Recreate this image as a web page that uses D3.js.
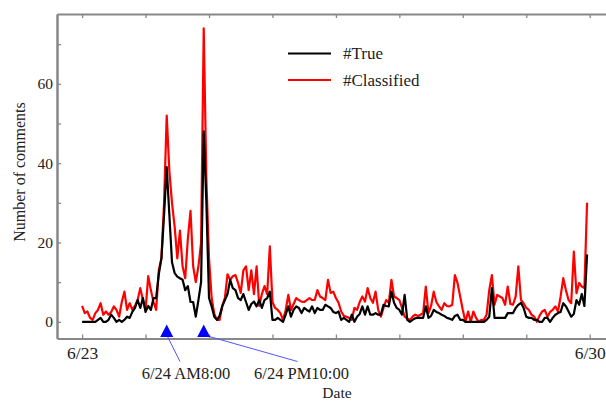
<!DOCTYPE html>
<html>
<head>
<meta charset="utf-8">
<script src="https://cdn.jsdelivr.net/npm/d3@7"></script>
<style>
  body { margin: 0; background: #fff; overflow: hidden; }
  svg text { font-family: "Liberation Serif", "Times New Roman", Times, serif; fill: #222; }
</style>
</head>
<body>
<div class="area"></div>
<script>
const width = 606
const height = 401

// hourly counts, hour 0 = 6/23 00:00
const classified = [
  4, 2.2, 2.6, 1, 0.5, 2.2, 3, 4.7, 1.8, 2.6, 1.8, 2.5,
  3.9, 3, 1.3, 5, 7.6, 3, 4.7, 3, 4, 5.5, 8.5, 5.5,
  3, 11.5, 8, 5, 3, 13, 16, 30, 52, 38, 30, 24,
  16, 23, 14, 11, 21, 28, 14, 10, 14, 20, 74, 36,
  16, 6, 2, 0.5, 0.5, 4, 6, 12, 10.6, 11.5, 11.8, 9.8,
  7.3, 13, 14, 8, 13, 7, 14, 4, 7, 9, 7, 19,
  5, 3.5, 3, 2.2, 0.5, 3, 6.8, 3, 4.5, 6, 5.5, 5.1,
  5, 5.5, 6, 5.5, 5.5, 8, 6.4, 6, 5.5, 10.6, 7.3, 7.6,
  6, 4.8, 2.6, 1.5, 1.3, 1, 0.5, 3.5, 3, 5, 6.4, 5.1,
  8.5, 6, 4.8, 7.6, 3, 1.3, 3.5, 5.5, 4.8, 10.6, 6.4, 6,
  5.5, 3.5, 1.3, 0.8, 0.5, 1.3, 1.8, 1.5, 1.8, 2.2, 8.9, 2.2,
  4, 7.6, 5, 3.9, 3, 4.7, 4, 3.9, 4.3, 11.8, 9.8, 6.4,
  3, 0, 2.6, 0, 2.6, 1, 0, 0.5, 0.5, 1.8, 8, 11.8,
  4.3, 6.8, 6.4, 6, 4.3, 8.9, 4.5, 4.3, 6.4, 14, 5.5, 4.7,
  3.5, 3, 1.8, 1.3, 0, 1.5, 2.6, 3, 1.3, 2.5, 3, 3.9,
  2.6, 6.4, 11, 8, 5.5, 4.7, 17.7, 7.2, 9.8, 8.9, 8.5, 30
]

const truth = [
  0, 0, 0, 0, 0, 0, 0.5, 1, 0, 0, 0.5, 1.8,
  1, 0, 0.5, 0, 0.5, 1.3, 1, 2.5, 3.5, 5.5, 3.5, 6,
  2.5, 4, 3, 6, 6, 12, 16, 27, 39, 27, 15, 12.3,
  11.4, 11, 10.6, 8, 9, 5, 5, 1.3, 5.5, 10, 48, 30,
  6, 3.9, 1.3, 0.5, 1.5, 3.9, 5.5, 7, 10.6, 8.5, 8, 6,
  5.5, 7, 5, 3, 4.5, 5.1, 3.9, 5.5, 3.5, 5.5, 6, 7.6,
  0.5, 0.5, 1, 0.5, 0, 1.8, 3.9, 1.3, 3, 3.9, 3.5, 2.2,
  3.5, 3, 2.6, 3.9, 2.2, 3.5, 3, 3, 4.3, 3.9, 3.5, 2.5,
  2.2, 2.6, 0.5, 1, 0.5, 0, 1.8, 0, 1.3, 2, 3.9, 1.8,
  3.9, 1.8, 1.8, 2.2, 1.8, 1.8, 4.3, 4, 3.9, 7.6, 4.8, 3.5,
  3, 1.8, 6.8, 0.5, 0, 0.5, 0.9, 1, 1, 1, 3.9, 1,
  1.5, 3, 2.5, 2.2, 1.8, 1.5, 1, 0.8, 0.5, 1.5, 1.8, 0.5,
  0.5, 0, 0, 0, 0, 0, 0, 0, 0, 0.5, 1.3, 8.5,
  1, 1, 1, 1, 1, 2.2, 2.2, 2.2, 3.5, 4.3, 4.8, 3.5,
  1.3, 1, 1, 0.5, 0.5, 0, 0, 1, 1, 0, 1, 1.8,
  2.2, 2.5, 4.7, 3.9, 2.6, 1.3, 2, 5.5, 4.3, 7, 4, 17
]

const hours = d3.range(classified.length)

const xTicks = [0, 24, 48, 72, 96, 120, 144, 168, 192]
const xTickLabels = {0: "6/23", 192: "6/30"}
const yTicks = [0, 20, 40, 60]
const yMinorTicks = [10, 30, 50, 70]

const events = [
  {hour: 32, label: "6/24 AM8:00"},
  {hour: 46, label: "6/24 PM10:00"}
]

const series = [
  {name: "#Classified", values: classified, color: "#ff0000"},
  {name: "#True", values: truth, color: "#000000"}
]
const legendOrder = ["#True", "#Classified"]

const svg = d3.select(".area")
  .append("svg")
  .attr("width", width)
  .attr("height", height)

const x = d3.scaleLinear()
  .domain([-9.5, 201])
  .range([57, 613.5])

const y = d3.scaleLinear()
  .domain([-4.2, 77.6])
  .range([338.5, 14])

const frameColor = "#888"

function styleAxis(g, fontSize) {
  g.attr("font-family", null)
  g.select(".domain").attr("stroke", frameColor).attr("stroke-width", 2)
  g.selectAll(".tick line").attr("stroke", frameColor).attr("stroke-width", 1.3)
  g.selectAll(".tick text")
    .attr("font-size", fontSize)
    .attr("fill", "#222")
}

// left axis, ticks inside
svg.append("g")
  .attr("transform", `translate(${x(-9.5)},0)`)
  .call(d3.axisLeft(y).tickValues(yTicks).tickSizeInner(-4).tickSizeOuter(0).tickPadding(4))
  .call(styleAxis, 15.5)

svg.append("g")
  .attr("transform", `translate(${x(-9.5)},0)`)
  .call(d3.axisLeft(y).tickValues(yMinorTicks).tickFormat("").tickSizeInner(-4).tickSizeOuter(0))
  .call(styleAxis, 15)

// bottom axis
svg.append("g")
  .attr("transform", `translate(0,${y(-4.2)})`)
  .call(d3.axisBottom(x).tickValues(xTicks)
    .tickFormat(d => xTickLabels[d] || "")
    .tickSizeInner(-4).tickSizeOuter(0).tickPadding(8))
  .call(styleAxis, 17.5)

// top axis
svg.append("g")
  .attr("transform", `translate(0,${y(77.6)})`)
  .call(d3.axisTop(x).tickValues(xTicks).tickFormat("").tickSizeInner(-4).tickSizeOuter(0))
  .call(styleAxis, 15)

const line = d3.line()
  .x((d, i) => x(hours[i]))
  .y(d => y(d))

svg.append("g").selectAll("path")
  .data(series)
  .join("path")
  .attr("fill", "none")
  .attr("stroke", d => d.color)
  .attr("stroke-width", 2.2)
  .attr("stroke-linejoin", "round")
  .attr("d", d => line(d.values))

// legend
const legend = svg.append("g")
legendOrder.forEach((name, i) => {
  const s = series.find(d => d.name === name)
  const ly = 53.5 + i * 26.5
  legend.append("line")
    .attr("x1", 288).attr("x2", 331)
    .attr("y1", ly).attr("y2", ly)
    .attr("stroke", s.color)
    .attr("stroke-width", 2)
  legend.append("text")
    .attr("x", 343).attr("y", ly + 5.5)
    .attr("font-size", 17)
    .text(name)
})

// event markers
const ann = svg.append("g")
const textPos = [{x: 186, y: 378.5}, {x: 301.5, y: 378.5}]
events.forEach((e, i) => {
  const cx = x(e.hour)
  const tip = y(-0.7)
  const base = y(-3.8)
  ann.append("line")
    .attr("x1", cx).attr("y1", base - 2)
    .attr("x2", textPos[i].x - (i === 0 ? 6 : 4)).attr("y2", textPos[i].y - 17)
    .attr("stroke", "#5555ff")
    .attr("stroke-width", 1)
  ann.append("path")
    .attr("d", `M${cx},${tip}L${cx - 6.5},${base}L${cx + 6.5},${base}Z`)
    .attr("fill", "#0000ff")
  ann.append("text")
    .attr("x", textPos[i].x).attr("y", textPos[i].y)
    .attr("text-anchor", "middle")
    .attr("font-size", 16.5)
    .text(e.label)
})

svg.append("text")
  .attr("x", 337).attr("y", 397.5)
  .attr("text-anchor", "middle")
  .attr("font-size", 15.5)
  .text("Date")

svg.append("text")
  .attr("transform", "translate(24.5,172) rotate(-90)")
  .attr("text-anchor", "middle")
  .attr("font-size", 16)
  .text("Number of comments")
</script>
</body>
</html>
